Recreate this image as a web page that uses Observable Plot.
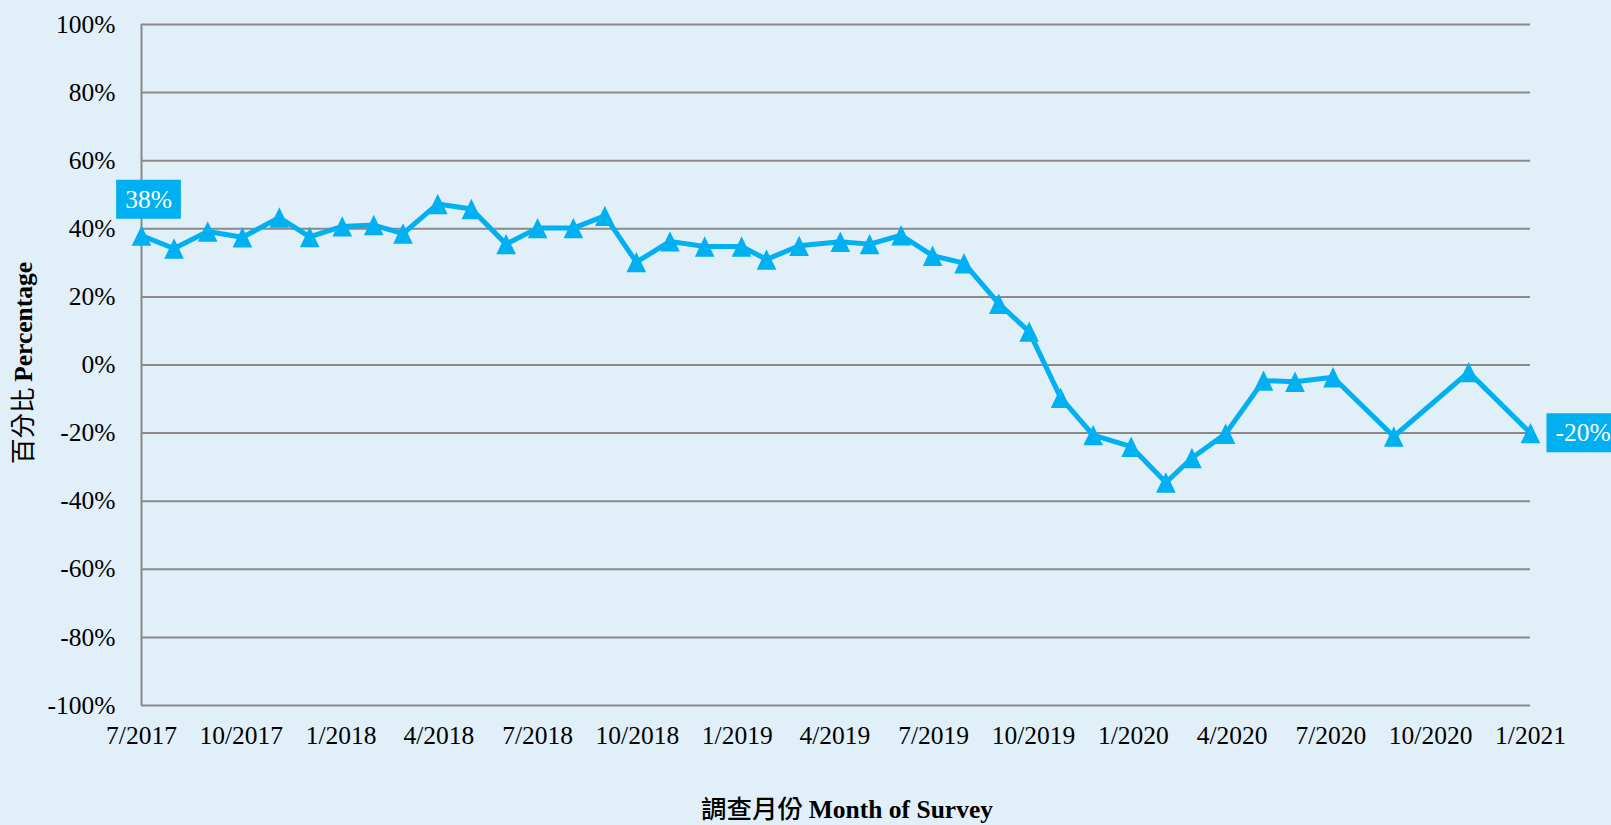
<!DOCTYPE html>
<html>
<head>
<meta charset="utf-8">
<script src="https://cdn.jsdelivr.net/npm/d3@7"></script>
<script src="https://cdn.jsdelivr.net/npm/@observablehq/plot@0.6"></script>
<style>
  html, body { margin: 0; padding: 0; background: #e1eff9; overflow: hidden; }
  #chart svg { display: block; }
  #chart svg text { font-family: 'Liberation Serif', 'Times New Roman', serif; }
</style>
</head>
<body>
<div id="chart"></div>
<script>
// Survey dates (position on the time axis) and percentages
const surveyDates = [
  "2017-07-01","2017-07-31","2017-08-31","2017-10-02","2017-11-05","2017-12-03",
  "2018-01-02","2018-01-31","2018-02-27","2018-03-31","2018-05-01","2018-06-02",
  "2018-07-01","2018-08-03","2018-09-01","2018-09-30","2018-10-31","2018-12-02",
  "2019-01-05","2019-01-28","2019-02-27","2019-04-06","2019-05-03","2019-06-01",
  "2019-06-30","2019-07-29","2019-08-30","2019-09-27","2019-10-26","2019-11-25",
  "2019-12-30","2020-01-31","2020-02-24","2020-03-26","2020-04-30","2020-05-29",
  "2020-07-03","2020-08-28","2020-11-05","2021-01-01"
];
const percentages = [
  38, 34.2, 39.2, 37.5, 43.3, 37.6,
  40.7, 41.1, 38.6, 47.3, 45.8, 35.5,
  40.2, 40.2, 43.8, 30.2, 36.3, 34.8,
  34.8, 31.0, 35.0, 36.2, 35.5, 38.1,
  32.1, 29.9, 18.0, 9.8, -9.6, -20.6,
  -24.0, -34.5, -27.3, -20.2, -4.6, -4.9,
  -3.6, -21.0, -2.1, -20
];
const xTickDates = [
  "2017-07-01","2017-10-01","2018-01-01","2018-04-01","2018-07-01","2018-10-01",
  "2019-01-01","2019-04-01","2019-07-01","2019-10-01","2020-01-01","2020-04-01",
  "2020-07-01","2020-10-01","2021-01-01"
];
const yTicks = [-100, -80, -60, -40, -20, 0, 20, 40, 60, 80, 100];
const xDomain = ["2017-07-01", "2021-01-01"];
const yTitleZh = "百分比", yTitleEn = "Percentage";
const xTitleZh = "調查月份", xTitleEn = "Month of Survey";

const data = surveyDates.map((d, i) => ({date: new Date(d), value: percentages[i]}));
const first = data[0], last = data[data.length - 1];

const BLUE = "#00b0f0";
const GRID = "#8a8a8a";
const SERIF = "'Liberation Serif', 'Times New Roman', serif";
const CJK = "'Noto Sans CJK TC', 'Noto Sans CJK SC', sans-serif";

// triangle marker, bounding box centred on the point
const tri = {
  draw(ctx, size) {
    const hw = 9.8, hh = 10.2;
    ctx.moveTo(0, -hh);
    ctx.lineTo(hw, hh);
    ctx.lineTo(-hw, hh);
    ctx.closePath();
  }
};

const chart = Plot.plot({
  width: 1611,
  height: 825,
  marginLeft: 141,
  marginRight: 81,
  marginTop: 24,
  marginBottom: 120,
  style: {background: "#e1eff9", fontFamily: SERIF, fontSize: "25.5px", color: "#000", overflow: "visible"},
  x: {type: "utc", domain: xDomain.map(d => new Date(d)), label: null},
  y: {domain: [-100, 100], label: null},
  marks: [
    Plot.gridY(yTicks, {stroke: GRID, strokeOpacity: 1, strokeWidth: 2}),
    Plot.ruleX([new Date(xDomain[0])], {stroke: GRID, strokeWidth: 2}),
    Plot.axisY({ticks: yTicks, tickFormat: d => d + "%", tickSize: 0, tickPadding: 26, label: null,
      fontSize: 25.5, fontFamily: SERIF}),
    Plot.axisX({ticks: xTickDates.map(d => new Date(d)), tickFormat: d => `${d.getUTCMonth() + 1}/${d.getUTCFullYear()}`,
      tickSize: 0, tickPadding: 20, label: null, fontSize: 25.5, fontFamily: SERIF}),
    Plot.line(data, {x: "date", y: "value", stroke: BLUE, strokeWidth: 5, strokeLinejoin: "miter"}),
    Plot.dot(data, {x: "date", y: "value", symbol: tri, r: 10, fill: BLUE, stroke: "none"}),
    Plot.text([first], {x: "date", y: "value", text: d => Math.round(d.value) + "%", dx: 7, dy: -36,
      textAnchor: "middle", fill: "white", fontSize: 25.5, fontFamily: SERIF}),
    Plot.text([last], {x: "date", y: "value", text: d => Math.round(d.value) + "%", dx: 25, dy: 0,
      textAnchor: "start", fill: "white", fontSize: 25.5, fontFamily: SERIF})
  ]
});

document.getElementById("chart").appendChild(chart);

const svg = d3.select(chart);

// label boxes behind the two data labels (only the data-label text groups carry white fill)
svg.selectAll('g[aria-label="text"] text').each(function() {
  const b = this.getBBox();
  const padX = 9, padY = 5;
  const r = document.createElementNS("http://www.w3.org/2000/svg", "rect");
  r.setAttribute("x", b.x - padX);
  r.setAttribute("y", b.y - padY);
  r.setAttribute("width", b.width + 2 * padX);
  r.setAttribute("height", b.height + 2 * padY);
  r.setAttribute("fill", BLUE);
  const t = this.getAttribute("transform");
  if (t) r.setAttribute("transform", t);
  this.parentNode.insertBefore(r, this);
});

// axis titles
const yt = svg.append("text")
  .attr("transform", "translate(32,363) rotate(-90)")
  .attr("text-anchor", "middle")
  .attr("font-size", 25.5);
yt.append("tspan").style("font-family", CJK).attr("font-weight", 400).text(yTitleZh + " ");
yt.append("tspan").style("font-family", SERIF).attr("font-weight", "bold").text(yTitleEn);

const xt = svg.append("text")
  .attr("x", 847).attr("y", 818)
  .attr("text-anchor", "middle")
  .attr("font-size", 25.5);
xt.append("tspan").style("font-family", CJK).attr("font-weight", 500).text(xTitleZh + " ");
xt.append("tspan").style("font-family", SERIF).attr("font-weight", "bold").text(xTitleEn);
</script>
</body>
</html>
